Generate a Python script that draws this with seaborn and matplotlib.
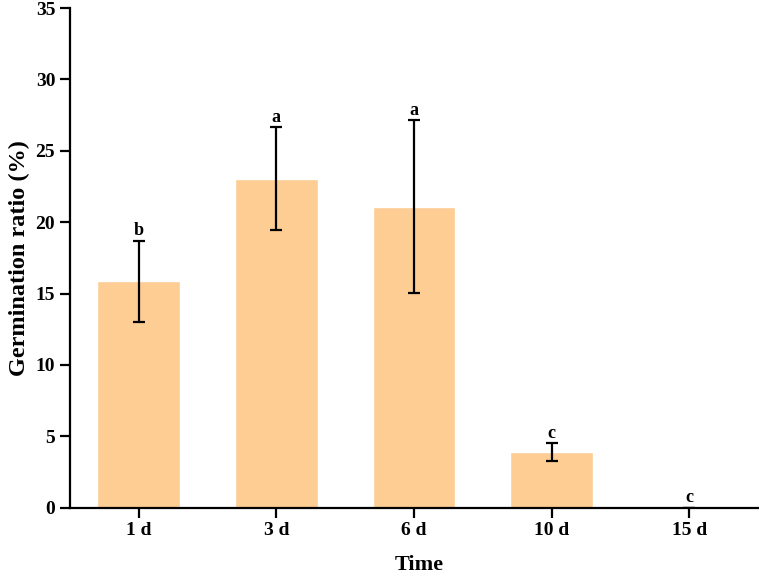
import numpy as np
import pandas as pd
import matplotlib.pyplot as plt
import seaborn as sns

sns.set_style('ticks')
plt.rcParams['font.family'] = ['Liberation Serif', 'DejaVu Serif']
plt.rcParams['font.weight'] = 'bold'
for key in ['text.color', 'axes.labelcolor', 'xtick.color', 'ytick.color', 'axes.edgecolor']:
    plt.rcParams[key] = 'black'

# data -----
times = ['1 d', '3 d', '6 d', '10 d', '15 d']
ratio = [15.87, 23.05, 21.09, 3.9, 0.0]
err = [2.85, 3.62, 6.05, 0.63, 0.0]
letters = ['b', 'a', 'a', 'c', 'c']

df = pd.DataFrame({'Time': times, 'Ratio': ratio, 'Err': err})

fig = plt.figure(figsize=(7.59, 5.77), dpi=100)
ax = fig.add_axes([0.092, 0.12, 0.907, 0.866])

sns.barplot(data=df, x='Time', y='Ratio', color='#FDCD94', saturation=1,
            width=0.6, errorbar=None, ax=ax)
ax.errorbar(np.arange(len(times)), df['Ratio'], yerr=df['Err'], fmt='none',
            ecolor='black', elinewidth=1.6, capsize=4, capthick=1.6)

for i, (v, e, s) in enumerate(zip(ratio, err, letters)):
    ax.text(i, v + e + 0.1, s, ha='center', va='bottom',
            fontsize=13, fontweight='bold')

ax.set_xlim(-0.5, 4.5)
ax.set_ylim(0, 35)
ax.set_yticks(range(0, 36, 5))
ax.set_xlabel('Time', fontsize=16, fontweight='bold')
ax.set_ylabel('Germination ratio (%)', fontsize=17.5, fontweight='bold')
ax.xaxis.set_label_coords(0.507, -0.095)
ax.tick_params(axis='both', labelsize=14, width=1.6, length=7, direction='out')
for lab in ax.get_xticklabels() + ax.get_yticklabels():
    lab.set_fontweight('bold')
sns.despine(ax=ax)
for sp in ['left', 'bottom']:
    ax.spines[sp].set_linewidth(1.6)

plt.savefig('out.png', dpi=100)
